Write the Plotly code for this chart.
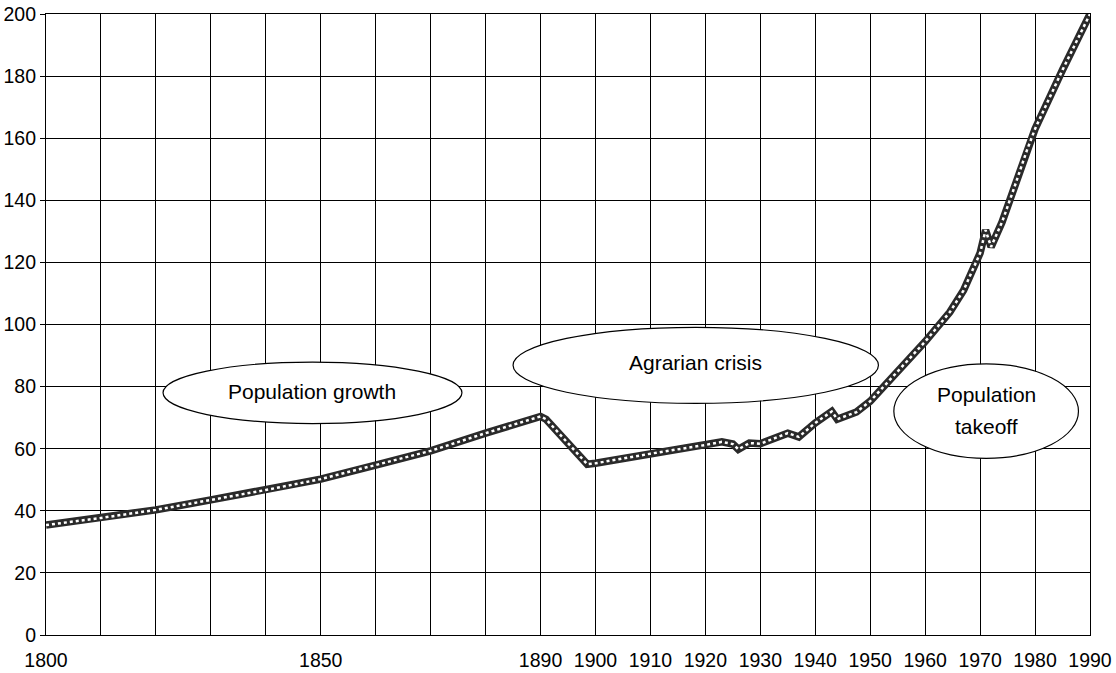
import plotly.graph_objects as go

# Data
years = [1800, 1810, 1820, 1830, 1840, 1850, 1860, 1870, 1880, 1890, 1891,
         1898.5, 1900, 1910, 1920, 1923, 1925, 1926, 1928, 1930, 1935, 1937,
         1940, 1943, 1944, 1947.5, 1950, 1955, 1960, 1964.5, 1967, 1970,
         1971, 1972, 1974, 1976, 1978.5, 1980, 1985, 1990]
population = [35.4, 37.7, 40.3, 43.5, 46.7, 50.2, 54.7, 59.3, 65.0, 70.4, 69.5,
              55.0, 55.3, 58.4, 61.2, 62.2, 61.5, 59.8, 61.8, 61.6, 65.0, 63.8,
              68.3, 72.0, 69.5, 71.8, 75.3, 84.8, 94.5, 104.0, 111.0, 123.0,
              130.4, 125.0, 133.0, 143.0, 156.0, 163.0, 182.0, 200.0]

grid_years = list(range(1800, 2000, 10))
labelled_years = [1800, 1850, 1890, 1900, 1910, 1920, 1930, 1940, 1950,
                  1960, 1970, 1980, 1990]
x_tick_text = [str(y) if y in labelled_years else "" for y in grid_years]
y_ticks = list(range(0, 201, 20))

FONT = "Liberation Sans, Arial, sans-serif"

fig = go.Figure()
fig.add_trace(go.Scatter(x=years, y=population, mode="lines",
                         line=dict(color="#2a2a2a", width=7.5),
                         hoverinfo="skip", showlegend=False))
fig.add_trace(go.Scatter(x=years, y=population, mode="lines",
                         line=dict(color="#ffffff", width=2.5, dash="dot"),
                         hoverinfo="skip", showlegend=False))

# Ellipses (data coords)
ellipses = [
    (1821.3, 1875.7, 68.1, 87.9),
    (1885.0, 1951.5, 74.6, 99.1),
    (1954.3, 1987.9, 56.9, 87.3),
]
for x0, x1, y0, y1 in ellipses:
    fig.add_shape(type="circle", xref="x", yref="y", x0=x0, x1=x1, y0=y0, y1=y1,
                  line=dict(color="black", width=1.2), fillcolor="white",
                  layer="above")

annots = [
    (1848.4, 78.3, "Population growth"),
    (1918.2, 87.9, "Agrarian crisis"),
    (1971.2, 77.3, "Population"),
    (1971.2, 67.0, "takeoff"),
]
for ax, ay, txt in annots:
    fig.add_annotation(x=ax, y=ay, text=txt, showarrow=False,
                       font=dict(family=FONT, size=21, color="black"),
                       xanchor="center", yanchor="middle")

fig.update_layout(
    width=1116, height=673,
    margin=dict(l=46, r=26, t=14, b=38, autoexpand=False),
    paper_bgcolor="white", plot_bgcolor="white",
    font=dict(family=FONT, size=20, color="black"),
    showlegend=False,
)
fig.update_xaxes(range=[1800, 1990], tickmode="array", tickvals=grid_years,
                 ticktext=x_tick_text, showgrid=True, gridcolor="black",
                 gridwidth=1.2, zeroline=False, showline=True, linecolor="black",
                 linewidth=1.2, mirror=True, ticks="", ticklabelstandoff=7,
                 automargin=False,
                 tickfont=dict(family=FONT, size=19.5, color="black"))
fig.update_yaxes(range=[0, 200], tickmode="array", tickvals=y_ticks,
                 showgrid=True, gridcolor="black", gridwidth=1.2,
                 zeroline=False, showline=True, linecolor="black",
                 linewidth=1.2, mirror=True, ticks="outside", ticklen=5,
                 tickcolor="black", automargin=False,
                 tickfont=dict(family=FONT, size=19.5, color="black"))

fig.write_html("out.html",
               config={"displayModeBar": False},
               post_script="document.body.style.margin='0';"
                           "document.body.style.overflow='hidden';")
